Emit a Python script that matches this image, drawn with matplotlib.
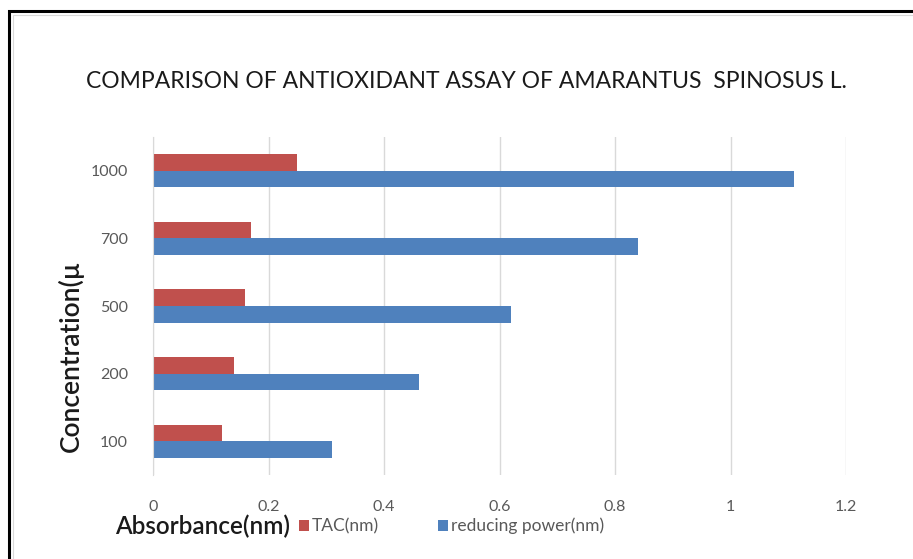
import matplotlib
matplotlib.use("Agg")
import matplotlib.pyplot as plt
from matplotlib.patches import Rectangle, Patch
import numpy as np

categories = ["100", "200", "500", "700", "1000"]
tac = [0.12, 0.14, 0.16, 0.17, 0.25]
reducing_power = [0.31, 0.46, 0.62, 0.84, 1.11]
xticks = [0, 0.2, 0.4, 0.6, 0.8, 1, 1.2]
xticklabels = ["0", "0.2", "0.4", "0.6", "0.8", "1", "1.2"]

plt.rcParams['font.family'] = ['Lato', 'DejaVu Sans']

W, H = 913, 559
fig = plt.figure(figsize=(W / 100, H / 100), dpi=100)
fig.patch.set_facecolor("white")

# outer frame
fig.patches.append(Rectangle((9 / W, -0.1), 1.2, (H - 11) / H + 0.1, transform=fig.transFigure,
                             fill=False, edgecolor="black", linewidth=2.2, zorder=0))
fig.patches.append(Rectangle((13 / W, -0.1), 1.2, (H - 15) / H + 0.1, transform=fig.transFigure,
                             fill=False, edgecolor="#d9d9d9", linewidth=0.8, zorder=0))

ax = fig.add_axes([153 / W, 1 - 475 / H, 693 / W, 338 / H])
y = np.arange(len(categories))
h = 0.245
red = "#C0504D"
blue = "#4F81BD"
ax.barh(y + h / 2, tac, height=h, color=red, label="TAC(nm)", zorder=3)
ax.barh(y - h / 2, reducing_power, height=h, color=blue, label="reducing power(nm)", zorder=3)

ax.set_ylim(-0.5, len(categories) - 0.5)
ax.set_xlim(0, 1.2)
ax.set_yticks(y)
ax.set_yticklabels(categories)
ax.set_xticks(xticks)
ax.set_xticklabels(xticklabels)
ax.tick_params(axis="both", length=0, colors="#595959", labelsize=11.5)
ax.tick_params(axis="x", pad=18)
ax.tick_params(axis="y", pad=18)
ax.grid(axis="x", color="#d9d9d9", linewidth=1, zorder=0)
for s in ["top", "right", "bottom"]:
    ax.spines[s].set_visible(False)
ax.spines["left"].set_color("#d9d9d9")
ax.spines["left"].set_zorder(4)

fig.text(466 / W, 1 - 82 / H, "COMPARISON OF ANTIOXIDANT ASSAY OF AMARANTUS  SPINOSUS L.",
         ha="center", va="center", fontsize=16.5, color="#1a1a1a")

fig.text(71 / W, 1 - 356 / H, "Concentration(\u00b5", rotation=90, ha="center", va="center",
         fontsize=19, color="#1a1a1a", fontweight="semibold")

fig.text(203 / W, 1 - 526 / H, "Absorbance(nm)", ha="center", va="center",
         fontsize=17.5, color="#1a1a1a", fontweight="semibold")

handles = [Patch(facecolor=red), Patch(facecolor=blue)]
fig.legend(handles, ["TAC(nm)", "reducing power(nm)"], loc="center left",
           bbox_to_anchor=(283 / W, 1 - 526 / H), ncol=2, frameon=False,
           fontsize=12.5, handlelength=0.6, handleheight=0.6, handletextpad=0.15,
           columnspacing=3.4, labelcolor="#595959")

fig.savefig("out.png", dpi=100)
